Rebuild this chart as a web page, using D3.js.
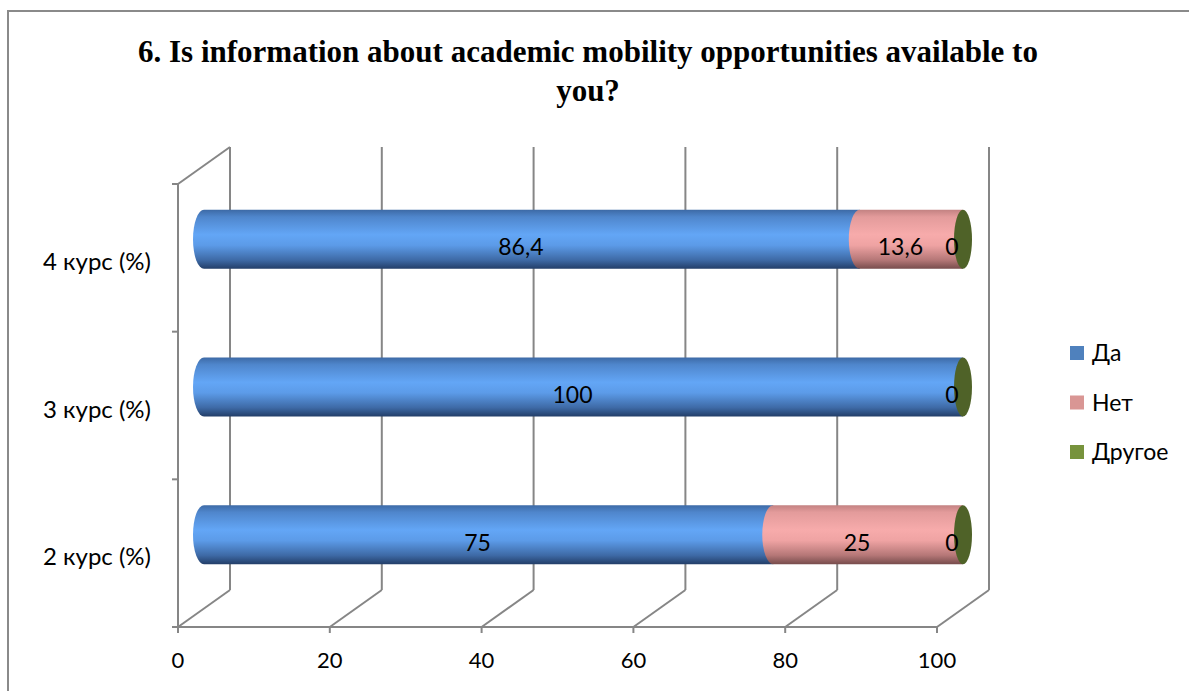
<!DOCTYPE html>
<html><head><meta charset="utf-8">
<script src="https://cdn.jsdelivr.net/npm/d3@7"></script>
<style>html,body{margin:0;padding:0;background:#fff;}svg{display:block;}</style>
</head><body>
<svg id="c" width="1189" height="691"></svg>
<script>
const categories = ["4 курс (%)", "3 курс (%)", "2 курс (%)"];
const seriesNames = ["Да", "Нет", "Другое"];
const da = [86.4, 100, 75];
const net = [13.6, 0, 25];
const drugoe = [0, 0, 0];
const daLabels = ["86,4", "100", "75"];
const netLabels = ["13,6", "", "25"];
const drugoeLabels = ["0", "0", "0"];
const xTicks = [0, 20, 40, 60, 80, 100];
const titleLines = ["6. Is information about academic mobility opportunities available to", "you?"];

const svg = d3.select("#c");
const font = "Lato, 'Open Sans', sans-serif";
const grid = "#868686";

// border
svg.append("rect").attr("x", 8).attr("y", 11).attr("width", 1300).attr("height", 800)
  .attr("fill", "none").attr("stroke", "#8a8a8a").attr("stroke-width", 2);

// title
svg.append("g").selectAll("text").data(titleLines).join("text")
  .attr("x", 588).attr("y", (d, i) => 62 + i * 39)
  .attr("text-anchor", "middle")
  .attr("font-family", "'Liberation Serif', 'Times New Roman', serif")
  .attr("font-weight", "bold").attr("font-size", 31).attr("fill", "#000")
  .text(d => d);

const x = d3.scaleLinear().domain([0, 100]).range([178, 937]);
const y = d3.scaleBand().domain(categories).range([184, 627]);
const DX = 52, DY = -37;

const defs = svg.append("defs");
function grad(id, stops) {
  const g = defs.append("linearGradient").attr("id", id).attr("x1", 0).attr("y1", 0).attr("x2", 0).attr("y2", 1);
  stops.forEach(s => g.append("stop").attr("offset", s[0]).attr("stop-color", s[1]));
}
grad("gBlue", [[0, "#3d6aa6"], [0.12, "#4f86cc"], [0.42, "#63a6f6"], [0.6, "#5c9be8"], [0.85, "#3e6aa6"], [1, "#233e68"]]);
grad("gPink", [[0, "#c38282"], [0.12, "#e39b9b"], [0.42, "#f7abab"], [0.6, "#efa3a3"], [0.85, "#b57777"], [1, "#774c4c"]]);

const gGrid = svg.append("g").attr("stroke", grid).attr("stroke-width", 2).attr("fill", "none");
// back wall verticals and floor diagonals
xTicks.forEach(t => {
  gGrid.append("line").attr("x1", x(t) + DX).attr("x2", x(t) + DX).attr("y1", 184 + DY).attr("y2", 627 + DY);
  gGrid.append("line").attr("x1", x(t)).attr("y1", 627).attr("x2", x(t) + DX).attr("y2", 627 + DY);
});
// left wall
gGrid.append("line").attr("x1", 178).attr("x2", 178).attr("y1", 184).attr("y2", 627);
gGrid.append("line").attr("x1", 178).attr("y1", 184).attr("x2", 178 + DX).attr("y2", 184 + DY);
// y ticks
const yEdges = categories.map(c => y(c)).concat([627]);
yEdges.forEach(v => gGrid.append("line").attr("x1", 172).attr("x2", 178).attr("y1", v).attr("y2", v));
// x axis
gGrid.append("line").attr("x1", 172).attr("x2", x(100)).attr("y1", 627).attr("y2", 627);
xTicks.forEach(t => gGrid.append("line").attr("x1", x(t)).attr("x2", x(t)).attr("y1", 627).attr("y2", 633));

// x tick labels
svg.append("g").selectAll("text").data(xTicks).join("text")
  .attr("x", d => x(d)).attr("y", 668).attr("text-anchor", "middle")
  .attr("font-family", font).attr("font-size", 22).attr("fill", "#000").text(d => d);

// category labels
svg.append("g").selectAll("text").data(categories).join("text")
  .attr("x", 151).attr("y", d => y(d) + y.bandwidth() / 2 + 12).attr("text-anchor", "end")
  .attr("font-family", font).attr("font-size", 24).attr("fill", "#000").text(d => d);

// bars
const barH = 59, rx = 11;
const gBars = svg.append("g");
categories.forEach((c, i) => {
  const cy = y(c) + y.bandwidth() / 2 + DY / 2;
  const top = cy - barH / 2, bot = cy + barH / 2;
  const segs = [
    { v0: 0, v1: da[i], fill: "url(#gBlue)" },
    { v0: da[i], v1: da[i] + net[i], fill: "url(#gPink)" }
  ];
  segs.forEach(s => {
    if (s.v1 - s.v0 <= 0) return;
    const x0 = x(s.v0) + DX / 2, x1 = x(s.v1) + DX / 2;
    gBars.append("path")
      .attr("d", `M${x0},${top} L${x1},${top} L${x1},${bot} L${x0},${bot} A${rx},${barH / 2} 0 0 1 ${x0},${top} Z`)
      .attr("fill", s.fill);
  });
  // Другое (0) end face
  const xe = x(da[i] + net[i] + drugoe[i]) + DX / 2;
  gBars.append("ellipse").attr("cx", xe).attr("cy", cy).attr("rx", 9).attr("ry", barH / 2)
    .attr("fill", "#4f6228");
});

// data labels
const LX = -11, LY = 8;
const gLab = svg.append("g").attr("font-family", font).attr("font-size", 23).attr("fill", "#000").attr("text-anchor", "middle");
categories.forEach((c, i) => {
  const cy = y(c) + y.bandwidth() / 2 + DY / 2 + LY + 8;
  const items = [
    { v0: 0, v1: da[i], t: daLabels[i] },
    { v0: da[i], v1: da[i] + net[i], t: netLabels[i] },
    { v0: da[i] + net[i], v1: da[i] + net[i] + drugoe[i], t: drugoeLabels[i] }
  ];
  items.forEach(it => {
    if (!it.t) return;
    const xm = x((it.v0 + it.v1) / 2) + DX / 2 + LX;
    gLab.append("text").attr("x", xm).attr("y", cy).text(it.t);
  });
});

// legend
const legColors = ["#4f81bd", "#d99694", "#77933c"];
const leg = svg.append("g");
seriesNames.forEach((n, i) => {
  const ly = 353 + i * 49.5;
  leg.append("rect").attr("x", 1070).attr("y", ly - 7).attr("width", 14).attr("height", 14).attr("fill", legColors[i]);
  leg.append("text").attr("x", 1092).attr("y", ly + 8).attr("font-family", font).attr("font-size", 23).attr("fill", "#000").text(n);
});
</script>
</body></html>
